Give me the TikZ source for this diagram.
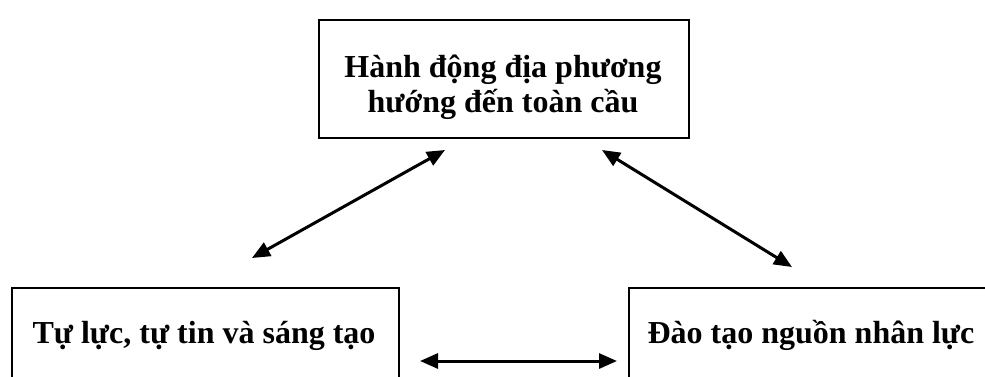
\documentclass[tikz,border=0pt]{standalone}
\usepackage{fontspec}
\setmainfont{Liberation Serif}
\usetikzlibrary{arrows.meta}
\begin{document}
\begin{tikzpicture}[x=1pt,y=-1pt,
  box/.style={draw, line width=1.8pt, inner sep=0pt, anchor=north west},
  lbl/.style={font=\fontsize{32}{35}\selectfont\bfseries, align=center, inner sep=0pt, anchor=base},
  link/.style={line width=3pt, {Triangle[length=18pt,width=15pt]}-{Triangle[length=18pt,width=15pt]}}]
\useasboundingbox (0,0) rectangle (985,376);
\clip (0,0) rectangle (985,376);
\node[box, minimum width=370pt, minimum height=118pt] (top) at (318,19) {};
\node[box, minimum width=387pt, minimum height=150pt] (left) at (11,287) {};
\node[box, minimum width=370pt, minimum height=150pt] (right) at (628,287) {};
\node[lbl] (toplbl) at (503,112) {Hành động địa phương\\hướng đến toàn cầu};
\node[lbl] (leftlbl) at (204,343) {Tự lực, tự tin và sáng tạo};
\node[lbl] (rightlbl) at (811,343) {Đào tạo nguồn nhân lực};
\coordinate (a1) at (252,258);
\coordinate (a2) at (445,150);
\coordinate (b1) at (602,150);
\coordinate (b2) at (792,267);
\coordinate (c1) at (420,361);
\coordinate (c2) at (617,361);
\draw[link] (a1) -- (a2);
\draw[link] (b1) -- (b2);
\draw[link] (c1) -- (c2);
\end{tikzpicture}
\end{document}
